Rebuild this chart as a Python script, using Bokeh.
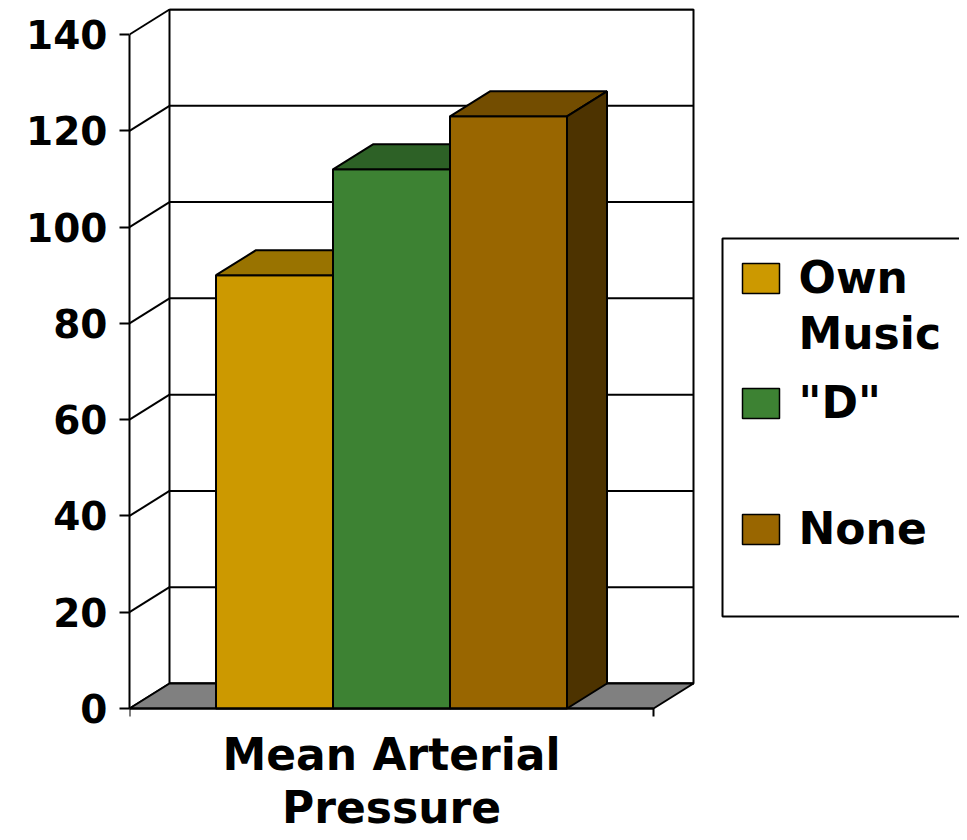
from bokeh.plotting import figure
from bokeh.models import Range1d, FixedTicker
from bokeh.core.properties import value
from bokeh.embed import file_html
from bokeh.resources import INLINE

# ---- data ----
categories = ["Mean Arterial Pressure"]
series = ["Own Music", '"D"', "None"]
legend_labels = ["Own\nMusic", '"D"', "None"]
values = [90, 112, 123]
y_ticks = [0, 20, 40, 60, 80, 100, 120, 140]

front_colors = ["#CC9900", "#3D8233", "#996600"]
top_colors = ["#997300", "#2D6126", "#734D00"]
side_colors = ["#664D00", "#1F4119", "#4D3300"]

# ---- layout constants (pixels) ----
FIG_W, FIG_H = 959, 832
LEFT, TOP = 129, 8
FRAME_W = FIG_W - LEFT
PX_PER_UNIT = 674 / 140.0     # front plane scale
ZERO_Y = 708                  # page y of value 0 on the front plane
Y_MAX = (ZERO_Y - TOP) / PX_PER_UNIT
Y_MIN = -(FIG_H - ZERO_Y) / PX_PER_UNIT
DX = 40                       # depth offset in x (px == data units)
DY = 25 / PX_PER_UNIT         # depth offset in y (data units)
FRONT_W = 524                 # front width of the category
BAR_W = 117
FONT = "DejaVu Sans"

def vy(page_y):
    return (ZERO_Y - page_y) / PX_PER_UNIT

def vx(page_x):
    return page_x - LEFT

p = figure(width=FIG_W, height=FIG_H, output_backend="svg", toolbar_location=None,
           x_range=Range1d(0, FRAME_W), y_range=Range1d(Y_MIN, Y_MAX),
           min_border_left=LEFT, min_border_right=0, min_border_top=TOP,
           min_border_bottom=0)
p.outline_line_color = None
p.xgrid.visible = False
p.ygrid.visible = False
p.background_fill_color = "white"
p.border_fill_color = "white"

# ---- y axis ----
ya = p.yaxis[0]
ya.ticker = FixedTicker(ticks=y_ticks, minor_ticks=[])
ya.bounds = (0, 140)
ya.axis_line_width = 2
ya.axis_line_color = "black"
ya.major_tick_line_width = 2
ya.major_tick_out = 10
ya.major_tick_in = 0
ya.minor_tick_line_color = None
ya.major_label_text_font = FONT
ya.major_label_text_font_style = "bold"
ya.major_label_text_font_size = "39px"
ya.major_label_text_color = "black"
ya.major_label_standoff = 12

# ---- x axis (category) ----
xa = p.xaxis[0]
center = FRONT_W / 2
xa.fixed_location = 0
xa.ticker = FixedTicker(ticks=[center], minor_ticks=[0, FRONT_W])
xa.bounds = (0, FRONT_W)
xa.major_label_overrides = {center: "Mean Arterial\nPressure"}
xa.axis_line_width = 2
xa.axis_line_color = "black"
xa.major_tick_line_color = None
xa.major_tick_out = 8
xa.major_tick_in = 0
xa.minor_tick_line_width = 2
xa.minor_tick_line_color = "black"
xa.minor_tick_out = 8
xa.minor_tick_in = 0
xa.major_label_text_font = FONT
xa.major_label_text_font_style = "bold"
xa.major_label_text_font_size = "44px"
xa.major_label_text_color = "black"
xa.major_label_text_line_height = 1.05
xa.major_label_standoff = 12

# ---- back wall ----
top_v = y_ticks[-1] + DY
p.quad(left=[DX], right=[FRONT_W + DX], bottom=[DY], top=[top_v],
       fill_color="white", line_color="black", line_width=2)
p.segment(x0=[DX] * len(y_ticks), x1=[FRONT_W + DX] * len(y_ticks),
          y0=[t + DY for t in y_ticks], y1=[t + DY for t in y_ticks],
          line_color="black", line_width=2)
# left wall diagonals
p.segment(x0=[0] * len(y_ticks), x1=[DX] * len(y_ticks),
          y0=y_ticks, y1=[t + DY for t in y_ticks],
          line_color="black", line_width=2)
# floor
p.patch(x=[0, FRONT_W, FRONT_W + DX, DX], y=[0, 0, DY, DY],
        fill_color="#808080", line_color="black", line_width=2)

# ---- bars ----
start = center - BAR_W * len(values) / 2
for i, v in enumerate(values):
    x0 = start + i * BAR_W
    x1 = x0 + BAR_W
    p.quad(left=[x0], right=[x1], bottom=[0], top=[v],
           fill_color=front_colors[i], line_color="black", line_width=2)
    p.patch(x=[x0, x1, x1 + DX, x0 + DX], y=[v, v, v + DY, v + DY],
            fill_color=top_colors[i], line_color="black", line_width=2)
    p.patch(x=[x1, x1 + DX, x1 + DX, x1], y=[0, DY, v + DY, v],
            fill_color=side_colors[i], line_color="black", line_width=2)

# ---- legend (drawn) ----
p.quad(left=[vx(722)], right=[FRAME_W + 30], bottom=[vy(616)], top=[vy(238)],
       fill_color="white", line_color="black", line_width=2)
sw_tops = [263, 388, 514]
p.quad(left=[vx(742)] * 3, right=[vx(779)] * 3,
       top=[vy(t) for t in sw_tops], bottom=[vy(t + 30) for t in sw_tops],
       fill_color=front_colors, line_color="black", line_width=1.5)
p.text(x=[vx(798)] * 3, y=[vy(t - 12) for t in sw_tops], text=legend_labels,
       text_font=value(FONT), text_font_style="bold", text_font_size="44px",
       text_baseline="top", text_align="left", text_color="black",
       text_line_height=1.1)

open("out.html", "w").write(file_html(p, INLINE))
